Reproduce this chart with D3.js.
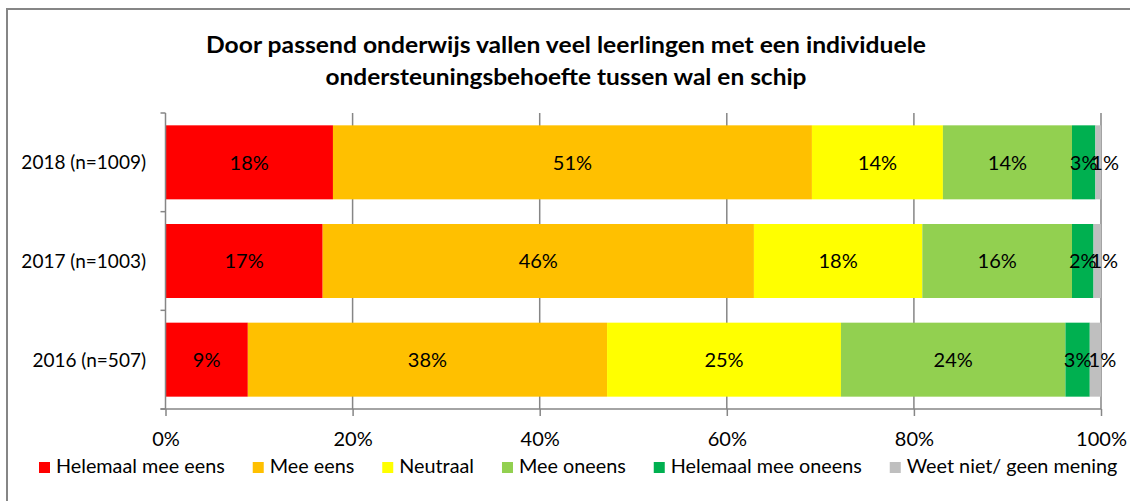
<!DOCTYPE html>
<html>
<head>
<meta charset="utf-8">
<script src="https://cdn.jsdelivr.net/npm/d3@7"></script>
<style>
  body { margin: 0; background: #fff; }
  svg text { font-family: Lato, "Noto Sans", sans-serif; fill: #000; }
</style>
</head>
<body>
<svg id="chart" width="1130" height="501"></svg>
<script>
// data (percent of respondents)
var categories = ["2018 (n=1009)", "2017 (n=1003)", "2016 (n=507)"];
var seriesNames = ["Helemaal mee eens", "Mee eens", "Neutraal", "Mee oneens", "Helemaal mee oneens", "Weet niet/ geen mening"];
var seriesColors = ["#FF0000", "#FFC000", "#FFFF00", "#92D050", "#00B050", "#BFBFBF"];
var helemaalMeeEens = [17.9, 16.8, 8.8];
var meeEens = [51.2, 46.1, 38.4];
var neutraal = [14.0, 18.0, 25.0];
var meeOneens = [13.8, 16.0, 24.0];
var helemaalMeeOneens = [2.5, 2.3, 2.6];
var weetNiet = [0.6, 0.8, 1.2];
var xTicks = [0, 20, 40, 60, 80, 100];
var titleLines = ["Door passend onderwijs vallen veel leerlingen met een individuele",
                  "ondersteuningsbehoefte tussen wal en schip"];

var values = [helemaalMeeEens, meeEens, neutraal, meeOneens, helemaalMeeOneens, weetNiet];
var rows = categories.map(function(c, i) {
  var r = {cat: c};
  seriesNames.forEach(function(s, j) { r[s] = values[j][i]; });
  return r;
});

var svg = d3.select("#chart");
var margin = {top: 113, left: 165.5, right: 1101, bottom: 409};

// outer chart border (only top and left visible in the picture)
svg.append("rect")
  .attr("x", 7).attr("y", 9)
  .attr("width", 1200).attr("height", 600)
  .attr("fill", "none")
  .attr("stroke", "#868686")
  .attr("stroke-width", 2);

// title
svg.append("g").selectAll("text")
  .data(titleLines)
  .join("text")
  .attr("x", 566)
  .attr("y", (d, i) => 53 + i * 32)
  .attr("text-anchor", "middle")
  .attr("font-size", 22.5)
  .attr("font-weight", "bold")
  .attr("textLength", (d, i) => i == 0 ? 720 : 481)
  .attr("lengthAdjust", "spacingAndGlyphs")
  .text(d => d);

var x = d3.scaleLinear()
  .domain([0, 100])
  .range([margin.left, margin.right]);

var y = d3.scaleBand()
  .domain(categories)
  .range([margin.top, margin.bottom])
  .paddingInner(0.25)
  .paddingOuter(0.125);

var color = d3.scaleOrdinal()
  .domain(seriesNames)
  .range(seriesColors);

// vertical gridlines
svg.append("g").selectAll("line")
  .data(xTicks.slice(1))
  .join("line")
  .attr("x1", d => x(d)).attr("x2", d => x(d))
  .attr("y1", margin.top).attr("y2", margin.bottom)
  .attr("stroke", "#868686")
  .attr("stroke-width", 1.5);

var series = d3.stack().keys(seriesNames)(rows);

svg.append("g")
  .selectAll("g")
  .data(series)
  .join("g")
  .attr("fill", d => color(d.key))
  .selectAll("rect")
  .data(d => d)
  .join("rect")
  .attr("x", d => x(d[0]))
  .attr("y", d => y(d.data.cat))
  .attr("width", d => x(d[1]) - x(d[0]))
  .attr("height", y.bandwidth());

// value labels (the tiny last segment's label sits a bit to the right, as in the original)
svg.append("g")
  .selectAll("g")
  .data(series)
  .join("g")
  .selectAll("text")
  .data(d => d.map(v => ({v: v, key: d.key})))
  .join("text")
  .attr("x", d => (x(d.v[0]) + x(d.v[1])) / 2)
  .attr("dx", d => d.key == seriesNames[5] ? 7 : 0)
  .attr("y", d => y(d.v.data.cat) + y.bandwidth() / 2)
  .attr("dy", "0.36em")
  .attr("text-anchor", "middle")
  .attr("font-size", 20)
  .text(d => Math.round(d.v.data[d.key]) + "%");

// bottom axis
var xAxis = svg.append("g")
  .attr("transform", `translate(0,${margin.bottom})`)
  .call(d3.axisBottom(x)
    .tickValues(xTicks)
    .tickFormat(d => d + "%")
    .tickSize(7)
    .tickSizeOuter(0));
xAxis.select(".domain").attr("stroke", "#868686").attr("stroke-width", 1.5)
  .attr("d", `M${margin.left - 5},0H${margin.right}`);
xAxis.selectAll(".tick line").attr("stroke", "#868686").attr("stroke-width", 1.5);
xAxis.selectAll(".tick text")
  .attr("font-size", 20)
  .attr("font-family", "Lato, 'Noto Sans', sans-serif")
  .attr("fill", "#000")
  .attr("y", 23)
  .attr("dy", "0.71em");

// left axis: line with ticks between the categories
var yBounds = categories.map(c => y(c) - y.step() * y.paddingInner() / 2);
yBounds.push(margin.bottom);
var yAxis = svg.append("g");
yAxis.append("line")
  .attr("x1", margin.left).attr("x2", margin.left)
  .attr("y1", margin.top).attr("y2", margin.bottom)
  .attr("stroke", "#868686").attr("stroke-width", 1.5);
yAxis.selectAll(".yt")
  .data(yBounds)
  .join("line")
  .attr("class", "yt")
  .attr("x1", margin.left - 5).attr("x2", margin.left)
  .attr("y1", d => d).attr("y2", d => d)
  .attr("stroke", "#868686").attr("stroke-width", 1.5);
yAxis.selectAll("text")
  .data(categories)
  .join("text")
  .attr("x", 146)
  .attr("y", d => y(d) + y.bandwidth() / 2)
  .attr("dy", "0.36em")
  .attr("text-anchor", "end")
  .attr("font-size", 19)
  .text(d => d);

// legend
var legend = svg.append("g").attr("transform", "translate(0,473)");
var lx = 39;
seriesNames.forEach(function(s) {
  legend.append("rect")
    .attr("x", lx).attr("y", -11)
    .attr("width", 11).attr("height", 11)
    .attr("fill", color(s));
  var t = legend.append("text")
    .attr("x", lx + 17).attr("y", 0)
    .attr("font-size", 19.8)
    .text(s);
  lx += 17 + t.node().getComputedTextLength() + 28;
});
</script>
</body>
</html>
